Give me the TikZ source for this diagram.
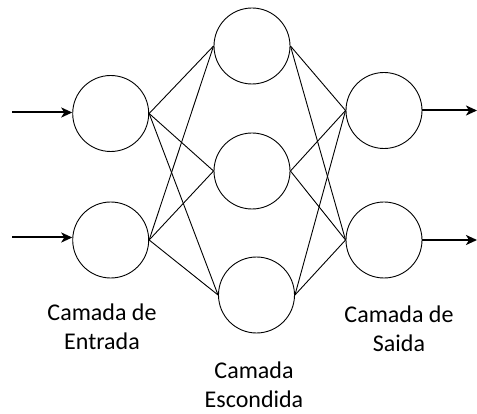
\documentclass[tikz,border=0pt]{standalone}
\usepackage{fontspec}
\setmainfont{Carlito}
\usetikzlibrary{arrows.meta}

\begin{document}
\begin{tikzpicture}[x=1pt,y=-1pt]
\useasboundingbox (0,0) rectangle (477,414);

\begin{scope}[every node/.style={circle,draw,line width=0.9pt,minimum size=76pt,inner sep=0pt}]
    \node (I1) at (110.7,113.5) {};
    \node (I2) at (110.7,240) {};
    \node (H1) at (252,46) {};
    \node (H2) at (252,171) {};
    \node (H3) at (256.5,295) {};
    \node (O1) at (384,110.5) {};
    \node (O2) at (384,240) {};
\end{scope}

\coordinate (in1) at (12,112.5);
\coordinate (in2) at (12,237.5);
\coordinate (out1) at (477,110.5);
\coordinate (out2) at (477,240);

\begin{scope}[>={Stealth[length=11pt,width=10pt,inset=3pt]},
              every path/.style={line width=2pt}]
    \draw [->] (in1) -- (in1 -| I1.west);
    \draw [->] (in2) -- (in2 -| I2.west);
    \draw [->] (O1.east) -- (out1);
    \draw [->] (O2.east) -- (out2);
\end{scope}

\begin{scope}[every edge/.style={draw=black, line width=0.9pt}]
    \foreach \i in {I1,I2}
        \foreach \h in {H1,H2,H3}
            \path (\i.east) edge (\h.west);
    \foreach \h in {H1,H2,H3}
        \foreach \o in {O1,O2}
            \path (\h.east) edge (\o.west);
\end{scope}

\begin{scope}[every node/.style={align=center,font=\fontsize{24}{29}\selectfont}]
    \node (lblin) at (102,327) {Camada de\\Entrada};
    \node (lblhid) at (254,385) {Camada\\Escondida};
    \node (lblout) at (399,329) {Camada de\\Saida};
\end{scope}
\end{tikzpicture}
\end{document}
